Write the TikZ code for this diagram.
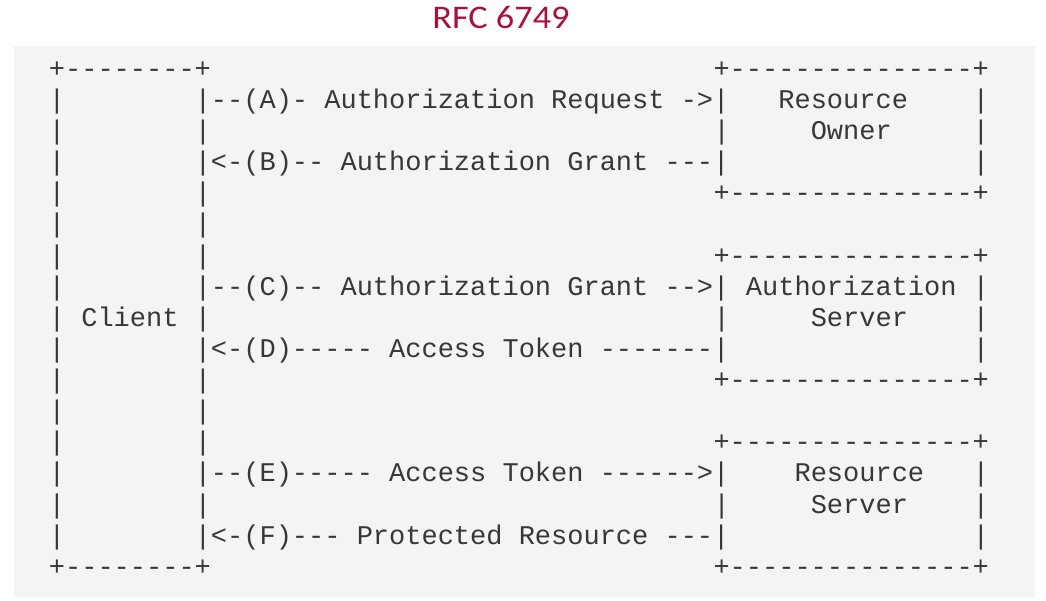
\documentclass[tikz,border=0pt]{standalone}
\usepackage{fontspec}
\usepackage{graphicx}
\newfontfamily\asciifont[Ligatures=TeXOff]{Liberation Mono}
\newfontfamily\titlefont{Carlito}
\definecolor{bgpanel}{RGB}{244,244,244}
\definecolor{inkgray}{RGB}{55,55,55}
\definecolor{titlered}{RGB}{166,18,58}
\tikzset{
  mono/.style={inner sep=0pt, outer sep=0pt, anchor=base west, text=inkgray,
    font=\asciifont\fontsize{27}{31}\selectfont},
  titletext/.style={inner sep=0pt, anchor=base, text=titlered,
    font=\titlefont\fontsize{33}{36}\selectfont}
}
% place ASCII text at a character column / text row
\newcommand\asc[4]{\node[mono] (#1) at ({-32.15+#2*16.21},{77.4+#3*31.12}) {#4};}
\begin{document}
\begin{tikzpicture}[x=1pt,y=-1pt]
\useasboundingbox (0,0) rectangle (1046,601);
\fill[bgpanel] (14,46) rectangle (1035,597);
\node[titletext] (title) at (501,28.3) {\scalebox{1.1}[1]{RFC 6749}};
% row 0
\asc{cTop}{5}{0}{+--------+}
\asc{roTop}{46}{0}{+---------------+}
% row 1
\asc{cL1}{5}{1}{|}
\asc{msgA}{14}{1}{|--(A)- Authorization Request ->|}
\asc{roName}{50}{1}{Resource}
\asc{roR1}{62}{1}{|}
% row 2
\asc{cL2}{5}{2}{|}
\asc{cR2}{14}{2}{|}
\asc{roL2}{46}{2}{|}
\asc{roName2}{52}{2}{Owner}
\asc{roR2}{62}{2}{|}
% row 3
\asc{cL3}{5}{3}{|}
\asc{msgB}{14}{3}{|<-(B)-- Authorization Grant ---|}
\asc{roR3}{62}{3}{|}
% row 4
\asc{cL4}{5}{4}{|}
\asc{cR4}{14}{4}{|}
\asc{roBot}{46}{4}{+---------------+}
% row 5
\asc{cL5}{5}{5}{|}
\asc{cR5}{14}{5}{|}
% row 6
\asc{cL6}{5}{6}{|}
\asc{cR6}{14}{6}{|}
\asc{asTop}{46}{6}{+---------------+}
% row 7
\asc{cL7}{5}{7}{|}
\asc{msgC}{14}{7}{|--(C)-- Authorization Grant -->|}
\asc{asName}{48}{7}{Authorization}
\asc{asR7}{62}{7}{|}
% row 8
\asc{cL8}{5}{8}{|}
\asc{client}{7}{8}{Client}
\asc{cR8}{14}{8}{|}
\asc{asL8}{46}{8}{|}
\asc{asName2}{52}{8}{Server}
\asc{asR8}{62}{8}{|}
% row 9
\asc{cL9}{5}{9}{|}
\asc{msgD}{14}{9}{|<-(D)----- Access Token -------|}
\asc{asR9}{62}{9}{|}
% row 10
\asc{cL10}{5}{10}{|}
\asc{cR10}{14}{10}{|}
\asc{asBot}{46}{10}{+---------------+}
% row 11
\asc{cL11}{5}{11}{|}
\asc{cR11}{14}{11}{|}
% row 12
\asc{cL12}{5}{12}{|}
\asc{cR12}{14}{12}{|}
\asc{rsTop}{46}{12}{+---------------+}
% row 13
\asc{cL13}{5}{13}{|}
\asc{msgE}{14}{13}{|--(E)----- Access Token ------>|}
\asc{rsName}{51}{13}{Resource}
\asc{rsR13}{62}{13}{|}
% row 14
\asc{cL14}{5}{14}{|}
\asc{cR14}{14}{14}{|}
\asc{rsL14}{46}{14}{|}
\asc{rsName2}{52}{14}{Server}
\asc{rsR14}{62}{14}{|}
% row 15
\asc{cL15}{5}{15}{|}
\asc{msgF}{14}{15}{|<-(F)--- Protected Resource ---|}
\asc{rsR15}{62}{15}{|}
% row 16
\asc{cBot}{5}{16}{+--------+}
\asc{rsBot}{46}{16}{+---------------+}
\end{tikzpicture}
\end{document}
